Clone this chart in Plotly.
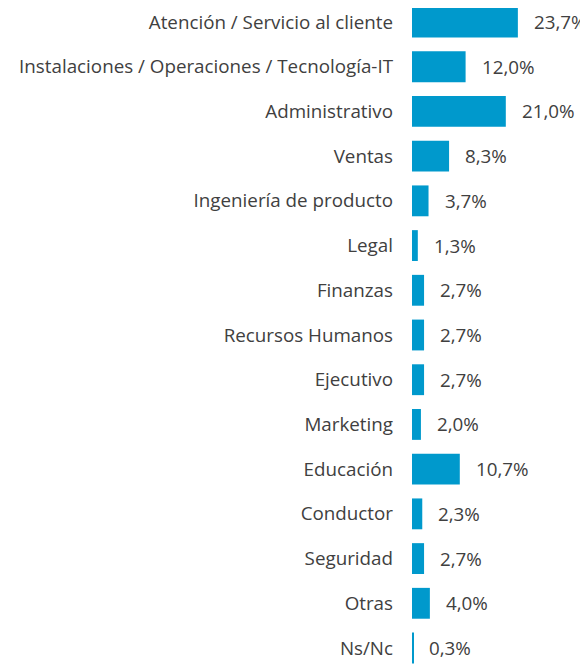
import plotly.graph_objects as go

categories = [
    "Atención / Servicio al cliente",
    "Instalaciones / Operaciones / Tecnología-IT",
    "Administrativo",
    "Ventas",
    "Ingeniería de producto",
    "Legal",
    "Finanzas",
    "Recursos Humanos",
    "Ejecutivo",
    "Marketing",
    "Educación",
    "Conductor",
    "Seguridad",
    "Otras",
    "Ns/Nc",
]
values = [23.7, 12.0, 21.0, 8.3, 3.7, 1.3, 2.7, 2.7, 2.7, 2.0, 10.7, 2.3, 2.7, 4.0, 0.3]
value_labels = [f"{v:.1f}%".replace(".", ",") for v in values]

BAR_COLOR = "#0099CC"
TEXT_COLOR = "#404040"
FONT = "Open Sans"
FSIZE = 18.8

fig = go.Figure()
fig.add_trace(go.Bar(
    x=values, y=categories, orientation="h",
    marker=dict(color=BAR_COLOR, line=dict(width=0)),
    width=0.69, hoverinfo="skip",
))

for c, v, t in zip(categories, values, value_labels):
    fig.add_annotation(x=v, y=c, text=t, showarrow=False, xanchor="left",
                       xshift=14, font=dict(family=FONT, size=FSIZE, color=TEXT_COLOR))

fig.update_layout(
    width=580, height=657,
    margin=dict(l=404, r=0, t=0, b=0),
    paper_bgcolor="white", plot_bgcolor="white",
    showlegend=False,
    font=dict(family=FONT, size=FSIZE, color=TEXT_COLOR),
    xaxis=dict(range=[0, 39.4], visible=False, fixedrange=True),
    yaxis=dict(range=[14.38, -0.313], showgrid=False, zeroline=False,
               showline=False, ticks="", ticklabelstandoff=18,
               tickfont=dict(family=FONT, size=FSIZE, color=TEXT_COLOR)),
)

fig.write_html("out.html")
